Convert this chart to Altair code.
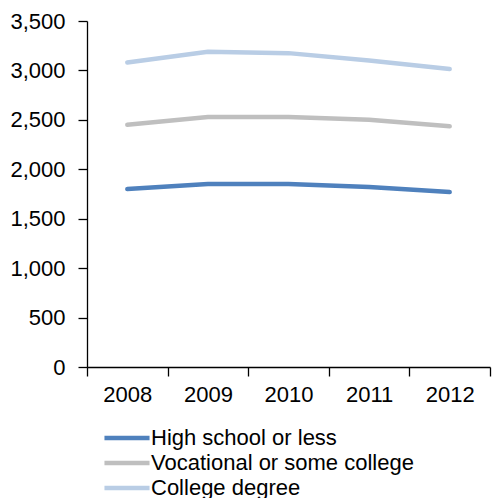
import altair as alt
import pandas as pd

years = [2008, 2009, 2010, 2011, 2012]
high_school = [1800, 1850, 1850, 1820, 1770]
vocational = [2450, 2530, 2530, 2500, 2435]
college = [3080, 3190, 3175, 3100, 3015]
series_names = ["High school or less", "Vocational or some college", "College degree"]
colors = ["#4F81BD", "#BFBFBF", "#B9CDE5"]
y_ticks = [0, 500, 1000, 1500, 2000, 2500, 3000, 3500]
x_ticks = [2007.5, 2008, 2008.5, 2009, 2009.5, 2010, 2010.5, 2011, 2011.5, 2012, 2012.5]

rows = []
for name, vals in zip(series_names, [high_school, vocational, college]):
    for yr, v in zip(years, vals):
        rows.append({"year": yr, "value": v, "series": name})
df = pd.DataFrame(rows)

FONT = "Liberation Sans"

chart = alt.Chart(df).mark_line(strokeWidth=4.5, strokeCap="round").encode(
    x=alt.X("year:Q",
            scale=alt.Scale(domain=[2007.5, 2012.5], nice=False, zero=False),
            axis=alt.Axis(values=x_ticks, title=None, grid=False,
                          labelExpr="datum.value % 1 == 0 ? datum.value : ''",
                          tickOpacity={"condition": {"test": "datum.value % 1 == 0", "value": 0}, "value": 1},
                          tickSize=9, labelPadding=8, labelFlush=False, labelOverlap=False)),
    y=alt.Y("value:Q",
            scale=alt.Scale(domain=[0, 3500], nice=False),
            axis=alt.Axis(values=y_ticks, format=",d", title=None, grid=False,
                          tickSize=9, labelPadding=13)),
    color=alt.Color("series:N",
                    scale=alt.Scale(domain=series_names, range=colors),
                    sort=series_names,
                    legend=alt.Legend(title=None, orient="none", legendX=29, legendY=406,
                                      symbolType="M-4,0H4", symbolSize=127,
                                      symbolStrokeWidth=4.5, labelOffset=13,
                                      labelFontSize=22, labelFont=FONT, labelColor="black",
                                      rowPadding=3, padding=0, labelLimit=400)),
).properties(
    width=403, height=346,
    padding={"left": 87, "top": 21, "right": 2, "bottom": 131},
    autosize=alt.AutoSizeParams(type="none"),
).configure_view(stroke=None).configure_axis(
    labelFont=FONT, labelFontSize=22, labelColor="black",
    domainColor="black", tickColor="black", domainWidth=1.3, tickWidth=1.3,
)

chart.save("out.html", embed_options={"renderer": "svg", "actions": False})
